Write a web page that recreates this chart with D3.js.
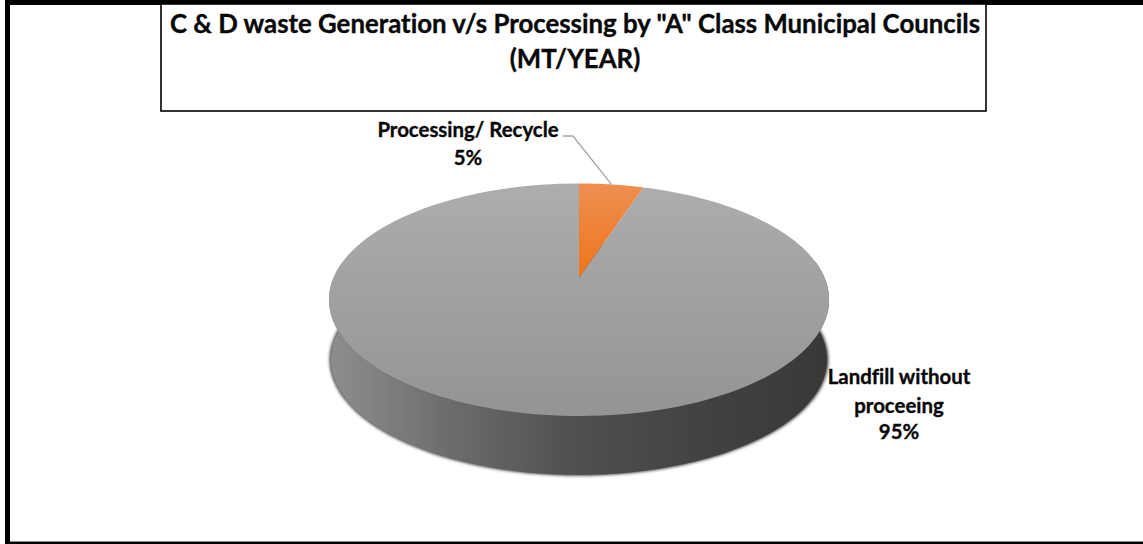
<!DOCTYPE html>
<html>
<head>
<meta charset="utf-8">
<script src="https://cdn.jsdelivr.net/npm/d3@7"></script>
<style>
  html, body { margin: 0; padding: 0; background: #fff; }
  svg { display: block; }
  text { font-family: Lato, "Open Sans", sans-serif; font-weight: 700; fill: #080808; stroke: #080808; stroke-width: 0.35px; font-variant-ligatures: none; }
</style>
</head>
<body>
<div id="grafica"></div>
<script>
// datos
const categories = ['Processing/ Recycle', 'Landfill without proceeing']
const shares = [5, 95]
const titleLines = ['C & D waste Generation v/s Processing by "A" Class Municipal Councils', '(MT/YEAR)']
const labelLines = [['Processing/ Recycle', '5%'], ['Landfill without', 'proceeing', '95%']]

const svgWidth = 1143
const svgHeight = 544

const svg = d3.select('#grafica')
    .append('svg')
    .attr('width', svgWidth)
    .attr('height', svgHeight)

const defs = svg.append('defs')

function gradient(id, x1, y1, x2, y2, stops) {
    const g = defs.append('linearGradient')
        .attr('id', id)
        .attr('gradientUnits', 'userSpaceOnUse')
        .attr('x1', x1).attr('y1', y1).attr('x2', x2).attr('y2', y2)
    stops.forEach(s => g.append('stop').attr('offset', s[0]).attr('stop-color', s[1]))
}
gradient('topGrey', 0, 183, 0, 416, [[0, '#adadad'], [1, '#949494']])
gradient('topOrange', 0, 183, 0, 278, [[0, '#ee8f52'], [1, '#ee7519']])
gradient('wall', 329, 0, 829, 0, [[0, '#8e8e8e'], [0.25, '#6b6b6b'], [0.5, '#4f4f4f'], [0.75, '#424242'], [1, '#383838']])

defs.append('filter').attr('id', 'soft')
    .attr('x', '-10%').attr('y', '-10%').attr('width', '120%').attr('height', '120%')
    .append('feGaussianBlur').attr('stdDeviation', 1.6)

// marco
svg.append('rect').attr('x', 5).attr('y', 0).attr('width', svgWidth - 5).attr('height', 5).style('fill', '#000')
svg.append('rect').attr('x', 5).attr('y', 0).attr('width', 5).attr('height', svgHeight).style('fill', '#000')
svg.append('rect').attr('x', 5).attr('y', 542).attr('width', svgWidth - 5).attr('height', 2).style('fill', '#000')
svg.append('rect').attr('x', 10).attr('y', 541).attr('width', svgWidth - 10).attr('height', 1).style('fill', '#888')

// caja del titulo
svg.append('rect')
    .attr('x', 161).attr('y', 4)
    .attr('width', 825).attr('height', 107)
    .style('fill', '#fff').style('stroke', '#000').style('stroke-width', 1.6)

svg.selectAll('.title')
    .data(titleLines)
    .enter()
    .append('text')
    .attr('class', 'title')
    .attr('x', 575)
    .attr('y', (d, i) => 33 + i * 35)
    .attr('text-anchor', 'middle')
    .style('font-size', '25.8px')
    .text(d => d)

// pastel en perspectiva
const pie = d3.pie().sort(null).value(d => d)
const slices = pie(shares)

const persp = 0.187
const scaleX = d3.scaleLinear().domain([-1, 1]).range([579 - 245.6, 579 + 245.6])
const scaleY = d3.scaleLinear().domain([-1, 1]).range([278 + 112.2, 278 - 112.2])

function project(angle, r = 1, shrink = 1, drop = 0) {
    const u = r * Math.sin(angle)
    const v = r * Math.cos(angle)
    const w = 1 + persp * v
    return [
        579 + (scaleX(u / w) - 579) * shrink,
        278 + (scaleY(v / w) - 278) * shrink + drop
    ]
}

const line = d3.line()
const rim = (a0, a1, shrink, drop) =>
    d3.range(0, 181).map(i => project(a0 + (a1 - a0) * i / 180, 1, shrink, drop))

const depth = 60
const depthShrink = 0.992

// sombra
svg.append('path')
    .attr('d', line(rim(0, 2 * Math.PI, 0.998, depth)) + 'Z')
    .style('fill', '#4a4a4a')
    .attr('filter', 'url(#soft)')

// pared lateral
const wallTop = rim(Math.PI * 0.45, Math.PI * 1.55, 1, 0)
const wallBottom = rim(Math.PI * 1.55, Math.PI * 0.45, depthShrink, depth)
svg.append('path')
    .attr('d', line(wallTop.concat(wallBottom)) + 'Z')
    .style('fill', 'url(#wall)')

// cara superior
svg.selectAll('.slice')
    .data(slices)
    .enter()
    .append('path')
    .attr('class', 'slice')
    .attr('d', d => line([[579, 278]].concat(rim(d.startAngle, d.endAngle, 1, 0))) + 'Z')
    .style('fill', (d, i) => i === 0 ? 'url(#topOrange)' : 'url(#topGrey)')

// linea guia
const mid = (slices[0].startAngle + slices[0].endAngle) / 2
const tip = project(mid)
svg.append('path')
    .attr('d', line([[563, 136], [573, 136], tip]))
    .style('fill', 'none')
    .style('stroke', '#a6a6a6')
    .style('stroke-width', 1.3)

// etiquetas
const labelPos = [
    { x: 468, y: [137, 165] },
    { x: 899, y: [384, 413, 439] }
]
categories.forEach((c, i) => {
    svg.selectAll('.label' + i)
        .data(labelLines[i])
        .enter()
        .append('text')
        .attr('class', 'label' + i)
        .attr('x', labelPos[i].x)
        .attr('y', (d, j) => labelPos[i].y[j])
        .attr('text-anchor', 'middle')
        .style('font-size', '20.4px')
        .text(d => d)
})
</script>
</body>
</html>
